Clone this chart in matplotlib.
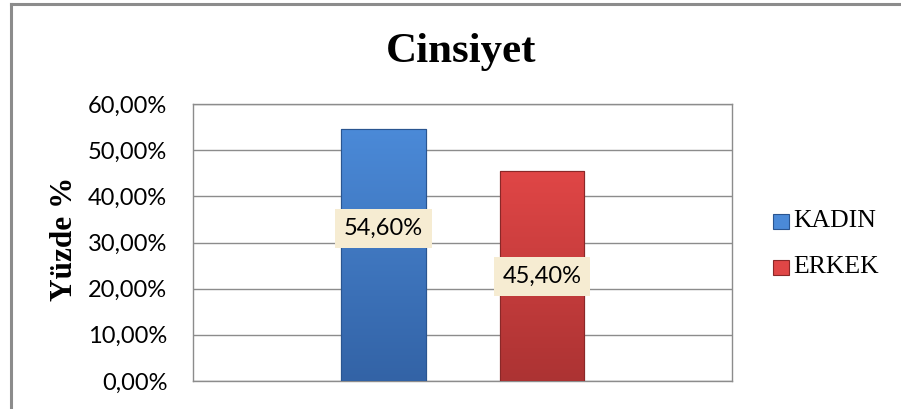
import matplotlib
matplotlib.use("Agg")
import matplotlib.pyplot as plt
import numpy as np
from matplotlib.lines import Line2D
from matplotlib.patches import Rectangle
from matplotlib.colors import LinearSegmentedColormap
from matplotlib.ticker import FuncFormatter

title = "Cinsiyet"
series = ["KADIN", "ERKEK"]
values = [54.60, 45.40]
label_pos = [33.0, 22.7]
top_colors = ["#4b8ad8", "#e04646"]
bottom_colors = ["#3363a6", "#ac3333"]
edge_colors = ["#2a5590", "#8a2828"]
yticks = [0, 10, 20, 30, 40, 50, 60]
ylabel = "Yüzde %"

W, H = 901, 409
fig = plt.figure(figsize=(W / 100, H / 100), dpi=100)
fig.patch.set_facecolor("white")

# outer frame (left and top)
fig.add_artist(Line2D([10.5 / W, 10.5 / W], [0, 1 - 3.5 / H], color="#8c8c8c", lw=2.2, transform=fig.transFigure))
fig.add_artist(Line2D([10.5 / W, 1], [1 - 3.5 / H, 1 - 3.5 / H], color="#8c8c8c", lw=2.2, transform=fig.transFigure))

left, right, top, bottom = 193, 732, 104, 381
ax = fig.add_axes([left / W, 1 - bottom / H, (right - left) / W, (bottom - top) / H])

x = list(range(len(series)))
bars = ax.bar(x, values, width=0.536, color=bottom_colors, edgecolor=edge_colors, linewidth=0.8, zorder=3)

ax.set_xlim(-1.202, 2.199)
ax.set_ylim(0, 60)

# vertical gradient inside each bar
grad = np.linspace(1, 0, 256).reshape(-1, 1)
for b, tc, bc in zip(bars, top_colors, bottom_colors):
    cmap = LinearSegmentedColormap.from_list("g", [bc, tc])
    bx, by = b.get_x(), b.get_y()
    bw, bh = b.get_width(), b.get_height()
    im = ax.imshow(grad, cmap=cmap, extent=[bx, bx + bw, by, by + bh], aspect="auto",
                   origin="upper", zorder=3.5, interpolation="bicubic")
    im.set_clip_path(b)
    ax.add_patch(Rectangle((bx, by), bw, bh, facecolor="none", edgecolor=b.get_edgecolor(),
                           linewidth=0.8, zorder=3.6))

ax.set_xlim(-1.202, 2.199)
ax.set_ylim(0, 60)
ax.set_yticks(yticks)
ax.yaxis.set_major_formatter(FuncFormatter(lambda v, p: f"{v:.2f}%".replace(".", ",")))
ax.set_xticks([])
ax.grid(axis="y", color="#8c8c8c", lw=1.0, zorder=0)
for s in ax.spines.values():
    s.set_color("#8c8c8c")
    s.set_linewidth(1.0)
ax.tick_params(axis="y", length=0, pad=18.5, labelsize=17)
for t in ax.get_yticklabels():
    t.set_fontfamily("Lato")

for xi, v, lp in zip(x, values, label_pos):
    ax.text(xi, lp, f"{v:.2f}%".replace(".", ","), ha="center", va="center", fontsize=17,
            family="Lato", zorder=5,
            bbox=dict(boxstyle="square,pad=0.38", facecolor="#f6ecd2", edgecolor="none"))

fig.text(461 / W, 1 - 52 / H, title, ha="center", va="center", fontsize=31, fontweight="bold",
         family="Liberation Serif")
fig.text(65 / W, 1 - 239 / H, ylabel, ha="center", va="center", rotation=90, fontsize=22.5,
         fontweight="bold", family="Liberation Serif")

# legend
leg_rows_y = [221, 267]
for name, tc, bc, ec, yy in zip(series, top_colors, bottom_colors, edge_colors, leg_rows_y):
    fig.add_artist(Rectangle((773 / W, 1 - (yy + 7.5) / H), 15.5 / W, 15 / H, facecolor=tc,
                             edgecolor=ec, lw=0.8, transform=fig.transFigure))
    fig.text(793 / W, 1 - yy / H, name, ha="left", va="center", fontsize=18.5,
             family="Liberation Serif")

fig.savefig("out.png", dpi=100, facecolor="white")
